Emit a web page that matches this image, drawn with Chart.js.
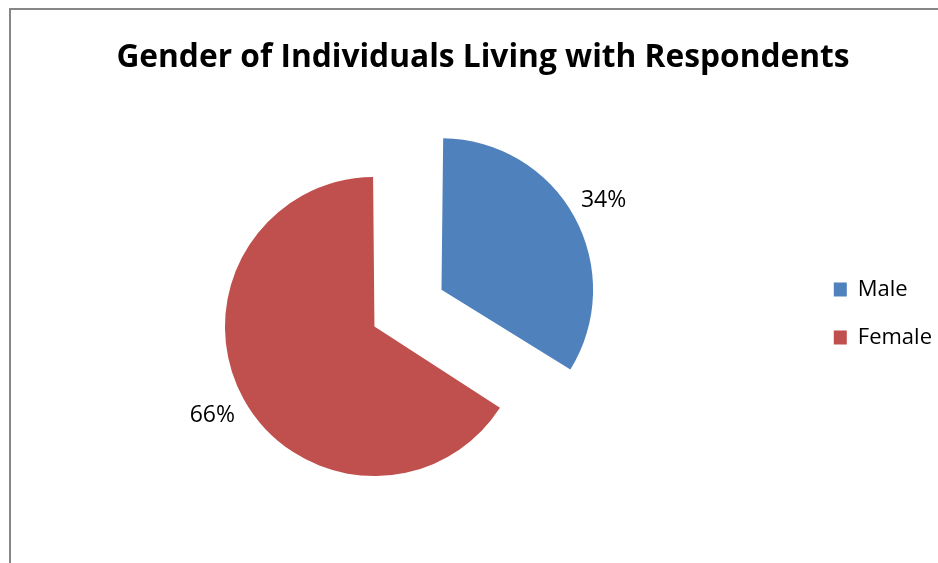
<!DOCTYPE html>
<html>
<head>
<meta charset="utf-8">
<script src="https://cdn.jsdelivr.net/npm/chart.js@4/dist/chart.umd.min.js"></script>
<style>
  html, body { margin: 0; padding: 0; background: #fff; overflow: hidden; }
  #frame {
    position: absolute; left: 9px; top: 8px; right: -10px; bottom: -10px;
    border-left: 2px solid #868686; border-top: 2px solid #868686;
  }
  #chart { position: absolute; left: 0; top: 0; }
</style>
</head>
<body>
<div id="frame"></div>
<canvas id="chart" width="938" height="563"></canvas>
<script>
var titleText = 'Gender of Individuals Living with Respondents';
var labels = ['Male', 'Female'];
var values = [34, 66];
var colors = ['#4F81BD', '#C0504D'];
var sliceOffsets = [272, 34];

// percent labels outside each slice
var pctLabels = {
    id: 'pctLabels',
    afterDatasetsDraw: function(chart) {
        var meta = chart.getDatasetMeta(0);
        var total = values.reduce(function(a, b) { return a + b; }, 0);
        var ctx = chart.ctx;
        ctx.save();
        ctx.font = '23px "Open Sans"';
        ctx.fillStyle = '#000';
        ctx.textAlign = 'center';
        ctx.textBaseline = 'middle';
        meta.data.forEach(function(arc, i) {
            var mid = (arc.startAngle + arc.endAngle) / 2;
            var dist = arc.options.offset / 4 + arc.outerRadius + 44;
            ctx.fillText(Math.round(values[i] / total * 100) + '%',
                arc.x + Math.cos(mid) * dist, arc.y + Math.sin(mid) * dist);
        });
        ctx.restore();
    }
};

var ctx = document.getElementById('chart').getContext('2d');
var chart = new Chart(ctx, {
    type: 'pie',
    data: {
        labels: labels,
        datasets: [{
            data: values,
            backgroundColor: colors,
            borderWidth: 0,
            offset: sliceOffsets,
            hoverOffset: 0
        }]
    },
    options: {
        responsive: false,
        animation: false,
        devicePixelRatio: 1,
        radius: 141,
        cutout: '0%',
        layout: {
            padding: { left: 24, right: -4, top: 0, bottom: 170.5 }
        },
        scales: {
            spacer: {
                type: 'linear',
                position: 'right',
                display: true,
                ticks: { display: false },
                grid: { display: false },
                border: { display: false },
                afterFit: function(scale) { scale.width = 68; }
            }
        },
        plugins: {
            title: {
                display: true,
                text: titleText,
                color: '#000',
                font: { family: 'Open Sans', size: 31.7, weight: 'bold' },
                padding: { top: 39, bottom: 175.5 }
            },
            legend: {
                position: 'right',
                align: 'start',
                fullSize: false,
                labels: {
                    color: '#000',
                    font: { family: 'Open Sans', size: 22 },
                    boxWidth: 13,
                    boxHeight: 14,
                    padding: 26
                }
            },
            tooltip: { enabled: false }
        }
    },
    plugins: [pctLabels]
});
</script>
</body>
</html>
